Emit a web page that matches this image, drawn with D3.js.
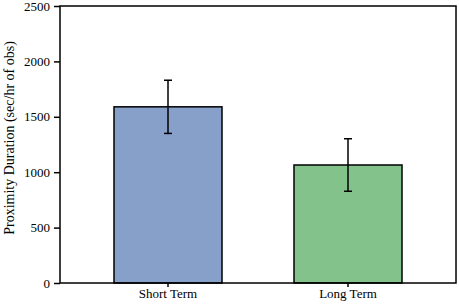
<!DOCTYPE html>
<html>
<head>
<meta charset="utf-8">
<script src="https://cdn.jsdelivr.net/npm/d3@7"></script>
<style>
  body { margin: 0; background: #fff; }
  svg text { font-family: "Liberation Serif", "Times New Roman", serif; }
</style>
</head>
<body>
<svg id="chart" width="459" height="305"></svg>
<script>
// data
const categories = ["Short Term", "Long Term"];
const means = [1590, 1065];
const errors = [240, 237];
const barColors = ["#86a0ca", "#83c38b"];
const yTicks = [0, 500, 1000, 1500, 2000, 2500];

const svg = d3.select("#chart"),
  margin = {top: 6, right: 3, bottom: 22, left: 60},
  width = +svg.attr("width") - margin.left - margin.right,
  height = +svg.attr("height") - margin.top - margin.bottom;

const g = svg.append("g").attr("transform", `translate(${margin.left},${margin.top})`);

const x = d3.scaleBand()
  .domain(categories)
  .range([0, width])
  .paddingInner(0.4)
  .paddingOuter(0.3);

const y = d3.scaleLinear()
  .domain([0, 2500])
  .range([height, 0]);

// bars
g.selectAll("rect.bar")
  .data(categories)
  .enter()
  .append("rect")
    .attr("class", "bar")
    .attr("x", d => x(d))
    .attr("y", (d, i) => y(means[i]))
    .attr("width", x.bandwidth())
    .attr("height", (d, i) => y(0) - y(means[i]))
    .attr("fill", (d, i) => barColors[i])
    .attr("stroke", "#000")
    .attr("stroke-width", 1.5);

// error bars
const capW = 4;
const eb = g.selectAll("g.err")
  .data(categories)
  .enter()
  .append("g")
    .attr("class", "err")
    .attr("stroke", "#000")
    .attr("stroke-width", 1.5);
eb.append("line")
  .attr("x1", d => x(d) + x.bandwidth() / 2)
  .attr("x2", d => x(d) + x.bandwidth() / 2)
  .attr("y1", (d, i) => y(means[i] + errors[i]))
  .attr("y2", (d, i) => y(means[i] - errors[i]));
eb.append("line")
  .attr("x1", d => x(d) + x.bandwidth() / 2 - capW)
  .attr("x2", d => x(d) + x.bandwidth() / 2 + capW)
  .attr("y1", (d, i) => y(means[i] + errors[i]))
  .attr("y2", (d, i) => y(means[i] + errors[i]));
eb.append("line")
  .attr("x1", d => x(d) + x.bandwidth() / 2 - capW)
  .attr("x2", d => x(d) + x.bandwidth() / 2 + capW)
  .attr("y1", (d, i) => y(means[i] - errors[i]))
  .attr("y2", (d, i) => y(means[i] - errors[i]));

// axes
const yAxis = g.append("g")
  .call(d3.axisLeft(y).tickValues(yTicks).tickFormat(d3.format("d")).tickSize(6).tickPadding(4));
const xAxis = g.append("g")
  .attr("transform", `translate(0,${height})`)
  .call(d3.axisBottom(x).tickSize(4).tickPadding(2));

[yAxis, xAxis].forEach(a => {
  a.select(".domain").remove();
  a.selectAll("line").attr("stroke", "#000").attr("stroke-width", 1.5);
  a.selectAll("text").attr("fill", "#000").style("font-size", "13px")
    .style("font-family", "'Liberation Serif', 'Times New Roman', serif");
});

// frame
g.append("rect")
  .attr("x", 0).attr("y", 0)
  .attr("width", width).attr("height", height)
  .attr("fill", "none")
  .attr("stroke", "#000")
  .attr("stroke-width", 1.5);

// y label
svg.append("text")
  .attr("transform", "translate(14,138) rotate(-90)")
  .attr("text-anchor", "middle")
  .style("font-size", "14px")
  .text("Proximity Duration (sec/hr of obs)");
</script>
</body>
</html>
